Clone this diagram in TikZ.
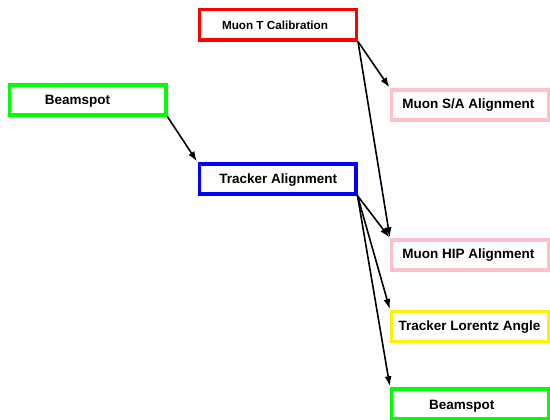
\documentclass[tikz,border=0pt]{standalone}
\usepackage{fontspec}
\setmainfont{Liberation Sans}
\usetikzlibrary{arrows.meta}
\definecolor{boxpink}{RGB}{255,192,203}
\tikzset{
  taskbox/.style={draw=#1, line width=3.3pt, rectangle, fill=white,
    minimum width=156.7pt, minimum height=30.2pt, inner sep=0pt},
  tasklabel/.style={anchor=base, inner sep=0pt,
    font=\fontsize{13.5}{16}\selectfont\bfseries},
  smalllabel/.style={tasklabel, font=\fontsize{11.7}{14}\selectfont\bfseries},
  dep/.style={line width=1.6pt, -{Latex[length=10pt,width=7pt]}, shorten >=1pt},
}
\begin{document}
\begin{tikzpicture}[x=1pt, y=-1pt]
  \useasboundingbox (0,0) rectangle (550,420);
  \clip (0,0) rectangle (550,420);
  \fill[white] (0,0) rectangle (550,420);

  % boxes
  \node[taskbox=red]       (mtc) at (278,24.8)  {};
  \node[taskbox=green]     (bs1) at (87.5,100)  {};
  \node[taskbox=blue]      (ta)  at (277.5,179) {};
  \node[taskbox=boxpink]   (msa) at (470,105)   {};
  \node[taskbox=boxpink]   (mhip) at (470,255)  {};
  \node[taskbox=yellow]    (tla) at (470,326.7) {};
  \node[taskbox=green]     (bs2) at (470,404)   {};

  % labels
  \node[smalllabel] (mtct) at (275,29.2)    {Muon T Calibration};
  \node[tasklabel]  (bs1t) at (77.5,104.9)  {Beamspot};
  \node[tasklabel]  (tat)  at (278.3,183.2) {Tracker Alignment};
  \node[tasklabel]  (msat) at (468.3,108.9) {Muon S/A Alignment};
  \node[tasklabel]  (mhipt) at (468.3,258.9) {Muon HIP Alignment};
  \node[tasklabel]  (tlat) at (469.5,330.9) {Tracker Lorentz Angle};
  \node[tasklabel]  (bs2t) at (461.8,409.9) {Beamspot};

  % dependencies
  \draw[dep] (mtc.south east) -- (msa.north west);
  \draw[dep] (mtc.south east) -- (mhip.north west);
  \draw[dep] (bs1.south east) -- (ta.north west);
  \draw[dep] (ta.south east) -- (mhip.north west);
  \draw[dep] (ta.south east) -- (tla.north west);
  \draw[dep] (ta.south east) -- (bs2.north west);
\end{tikzpicture}
\end{document}
